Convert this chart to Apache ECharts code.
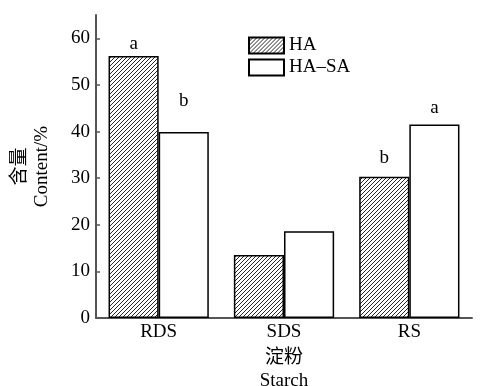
<!DOCTYPE html>
<html>
<head>
<meta charset="utf-8">
<script src="https://cdn.jsdelivr.net/npm/echarts@6/dist/echarts.min.js"></script>
<style>
  html, body { margin: 0; padding: 0; background: #fff; }
  #chart { width: 487px; height: 386px; }
</style>
</head>
<body>
<div id="chart"></div>
<script>
// starch fractions
const categories = ['RDS', 'SDS', 'RS'];
const haValues = [56.2, 13.5, 30.3];
const hasaValues = [39.9, 18.6, 41.5];
const haLetters = ['a', '', 'b'];
const hasaLetters = ['b', '', 'a'];

const FONT = '"Liberation Serif", "Noto Sans CJK SC", serif';
const FS = 19;

// hatch tile: lines running lower-left to upper-right
function hatchPattern() {
  const c = document.createElement('canvas');
  c.width = 8;
  c.height = 8;
  const ctx = c.getContext('2d');
  ctx.fillStyle = '#fff';
  ctx.fillRect(0, 0, 8, 8);
  ctx.strokeStyle = '#111';
  ctx.lineWidth = 0.9;
  for (let k = -8; k <= 16; k += 4) {
    ctx.beginPath();
    ctx.moveTo(k, 8);
    ctx.lineTo(k + 8, 0);
    ctx.stroke();
  }
  return c;
}

// how far each letter sits above its bar
const haLabelGap = [3, 0, 9];
const hasaLabelGap = [21, 0, 7];

function withLetters(values, letters, gaps) {
  return values.map((v, i) => ({
    value: v,
    label: {
      show: letters[i] !== '',
      formatter: letters[i],
      distance: gaps[i]
    }
  }));
}

const chart = echarts.init(document.getElementById('chart'));

const barLabel = {
  position: 'top',
  color: '#000',
  fontFamily: FONT,
  fontSize: FS
};

chart.setOption({
  backgroundColor: '#fff',
  animation: false,
  textStyle: { fontFamily: FONT },
  grid: { left: 96, right: 15, top: 15, bottom: 68, containLabel: false, outerBoundsMode: 'none' },
  legend: {
    orient: 'vertical',
    left: 248,
    top: 36,
    padding: 0,
    itemWidth: 35,
    itemHeight: 16,
    itemGap: 3,
    icon: 'rect',
    textStyle: { fontFamily: FONT, fontSize: FS, color: '#000' },
    data: ['HA', 'HA\u2013SA']
  },
  xAxis: {
    type: 'category',
    data: categories,
    name: '淀粉\nStarch',
    nameLocation: 'middle',
    nameGap: 27,
    nameTextStyle: { fontFamily: FONT, fontSize: FS, color: '#000', lineHeight: 23 },
    axisLine: { lineStyle: { color: '#555', width: 2 } },
    axisTick: { inside: true, length: 5, lineStyle: { color: '#555', width: 1.5 } },
    axisLabel: { color: '#000', fontSize: FS, fontFamily: FONT, margin: 5 }
  },
  yAxis: {
    type: 'value',
    min: 0,
    max: 65,
    interval: 10,
    name: '含量\nContent/%',
    nameLocation: 'middle',
    nameGap: 43,
    nameTextStyle: { fontFamily: FONT, fontSize: FS, color: '#000', lineHeight: 22 },
    splitLine: { show: false },
    axisLine: { show: true, lineStyle: { color: '#555', width: 2 } },
    axisTick: { show: true, inside: true, length: 4, lineStyle: { color: '#555', width: 1.5 } },
    axisLabel: { color: '#000', fontSize: FS, fontFamily: FONT, margin: 6, showMaxLabel: false }
  },
  series: [
    {
      name: 'HA',
      type: 'bar',
      barGap: '0%',
      barCategoryGap: '20%',
      itemStyle: {
        color: { image: hatchPattern(), repeat: 'repeat' },
        borderColor: '#000',
        borderWidth: 1.5
      },
      label: barLabel,
      data: withLetters(haValues, haLetters, haLabelGap)
    },
    {
      name: 'HA\u2013SA',
      type: 'bar',
      barGap: '0%',
      barCategoryGap: '20%',
      itemStyle: { color: '#fff', borderColor: '#000', borderWidth: 1.5 },
      label: barLabel,
      data: withLetters(hasaValues, hasaLetters, hasaLabelGap)
    }
  ]
});
</script>
</body>
</html>
